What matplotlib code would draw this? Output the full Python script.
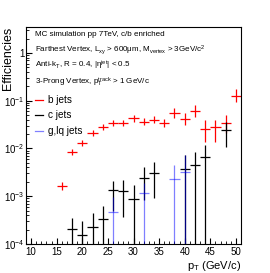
import matplotlib
matplotlib.use('Agg')
import matplotlib.pyplot as plt
from matplotlib.lines import Line2D
from matplotlib.ticker import FixedLocator, FixedFormatter, MultipleLocator, LogLocator, NullFormatter

plt.rcParams['font.family'] = ['Liberation Sans', 'DejaVu Sans']
plt.rcParams['mathtext.fontset'] = 'custom'
plt.rcParams['mathtext.rm'] = 'Liberation Sans'
plt.rcParams['mathtext.it'] = 'Liberation Sans:italic'
plt.rcParams['mathtext.bf'] = 'Liberation Sans:bold'

# ---- data ----
b_pt = [16, 18, 20, 22, 24, 26, 28, 30, 32, 34, 36, 38, 40, 42, 44, 46, 48, 50]
b_eff = [1.65e-3, 8.5e-3, 1.32e-2, 2.14e-2, 2.78e-2, 3.37e-2, 3.37e-2, 4.28e-2, 3.64e-2,
         3.95e-2, 3.37e-2, 5.46e-2, 4.08e-2, 6.2e-2, 2.52e-2, 2.86e-2, 3.47e-2, 0.126]
b_hi = [2.0e-3, 9.83e-3, 1.53e-2, 2.47e-2, 3.21e-2, 3.90e-2, 3.90e-2, 5.02e-2, 4.31e-2,
        4.68e-2, 4.09e-2, 6.95e-2, 5.45e-2, 8.28e-2, 3.89e-2, 4.01e-2, 5.10e-2, 0.172]
b_lo = [1.36e-3, 7.35e-3, 1.14e-2, 1.85e-2, 2.40e-2, 2.92e-2, 2.92e-2, 3.65e-2, 3.07e-2,
        3.34e-2, 2.78e-2, 4.29e-2, 3.05e-2, 4.64e-2, 1.35e-2, 1.39e-2, 2.14e-2, 9.2e-2]

c_pt = [18, 20, 22, 24, 26, 28, 30, 32, 34, 40, 42, 44, 48]
c_eff = [2.03e-4, 1.54e-4, 2.24e-4, 3.29e-4, 1.35e-3, 1.29e-3, 8.63e-4, 2.38e-3, 3.11e-3,
         3.66e-3, 4.51e-3, 6.55e-3, 2.44e-2]
c_hi = [3.45e-4, 3.03e-4, 4.39e-4, 6.34e-4, 2.04e-3, 2.19e-3, 1.72e-3, 4.16e-3, 5.29e-3,
        7.31e-3, 8.57e-3, 1.18e-2, 3.64e-2]
c_lo = [1e-5, 1e-5, 1e-5, 1e-5, 4.91e-4, 3.73e-4, 1e-5, 8.34e-4, 9.06e-4,
        1e-5, 1e-5, 1e-5, 1.09e-2]

l_pt = [26, 32, 38, 40]
l_eff = [4.74e-4, 1.15e-3, 2.3e-3, 3.22e-3]
l_hi = [9.79e-4, 1.9e-3, 4.51e-3, 7.31e-3]
l_lo = [1e-5, 1e-5, 1e-5, 1e-5]

bin_half = [1.0]

x_ticks = [10, 15, 20, 25, 30, 35, 40, 45, 50]
y_ticks = [1e-4, 1e-3, 1e-2, 1e-1, 1]
y_ticklabels = [r'$10^{-4}$', r'$10^{-3}$', r'$10^{-2}$', r'$10^{-1}$', '1']

W, H = 270, 273
fig = plt.figure(figsize=(W / 100, H / 100), dpi=100)
L, R, T, B = 26, 241, 27, 244
ax = fig.add_axes([L / W, 1 - B / H, (R - L) / W, (B - T) / H])
ax.set_yscale('log')


def draw(pt, eff, hi, lo, color, alpha=1.0):
    yerr = [[e - l for e, l in zip(eff, lo)], [h - e for e, h in zip(eff, hi)]]
    ax.errorbar(pt, eff, yerr=yerr, xerr=bin_half[0], fmt='none', ecolor=color,
                elinewidth=0.9, capsize=0, alpha=alpha)


draw(b_pt, b_eff, b_hi, b_lo, 'red')
draw(c_pt, c_eff, c_hi, c_lo, 'black')
draw(l_pt, l_eff, l_hi, l_lo, 'blue', alpha=0.5)

ax.set_xlim(9, 51)
ax.set_ylim(1e-4, 3.5)

ax.xaxis.set_major_locator(FixedLocator(x_ticks))
ax.xaxis.set_minor_locator(MultipleLocator(1))
ax.yaxis.set_major_locator(FixedLocator(y_ticks))
ax.yaxis.set_major_formatter(FixedFormatter(y_ticklabels))
ax.yaxis.set_minor_locator(LogLocator(base=10, subs=range(2, 10), numticks=20))
ax.yaxis.set_minor_formatter(NullFormatter())
ax.tick_params(which='both', direction='in', top=False, right=False, labelsize=7)
ax.tick_params(axis='y', which='major', length=4.5, pad=1)
ax.tick_params(axis='y', which='minor', length=2.2)
ax.tick_params(axis='x', which='major', length=4, pad=2)
ax.tick_params(axis='x', which='minor', length=2)
for s in ax.spines.values():
    s.set_linewidth(0.8)

# annotations
fs = 5.8
fig.text(35 / W, 1 - 34 / H, 'MC simulation pp 7TeV, c/b enriched', fontsize=fs, va='center')
fig.text(35 / W, 1 - 50 / H,
         r'Farthest Vertex, L$_{\mathrm{xy}}$ > 600μm, M$_{\mathrm{vertex}}$ > 3GeV/c$^{2}$',
         fontsize=fs, va='center')
fig.text(35 / W, 1 - 65 / H, r'Anti-k$_{\mathrm{T}}$, R = 0.4, |η$^{\mathrm{jet}}$| < 0.5',
         fontsize=fs, va='center')
fig.text(35 / W, 1 - 82 / H, r'3-Prong Vertex, p$_{\mathrm{T}}^{\mathrm{track}}$ > 1 GeV/c',
         fontsize=fs, va='center')

handles = [Line2D([], [], color='red', lw=0.9),
           Line2D([], [], color='black', lw=0.9),
           Line2D([], [], color='blue', lw=0.9, alpha=0.5)]
ax.legend(handles, ['b jets', 'c jets', 'g,lq jets'], loc='upper left',
          bbox_to_anchor=((35 - L) / (R - L), (B - 95) / (B - T)), frameon=False,
          fontsize=7.2, handlelength=0.8, handletextpad=0.5, labelspacing=0.55,
          borderpad=0, borderaxespad=0)

fig.text(8 / W, 1 - 27 / H, 'Efficiencies', rotation=90, ha='center', va='top', fontsize=9)
fig.text(241 / W, 1 - 266 / H, r'p$_{\mathrm{T}}$ (GeV/c)', ha='right', va='center', fontsize=8)

fig.savefig('out.png', dpi=100)
